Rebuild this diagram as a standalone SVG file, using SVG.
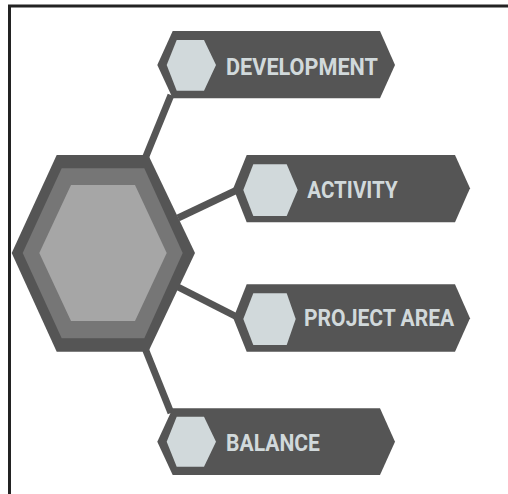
<svg xmlns="http://www.w3.org/2000/svg" width="508" height="494" viewBox="0 0 508 494">
<style>
.frame{fill:none;stroke:#232323;stroke-width:3}
.link{stroke:#555555;stroke-width:7;fill:none}
.box{fill:#555555}
.chip{fill:#d1d9db}
.lbl{font-family:Roboto,"Liberation Sans",sans-serif;font-weight:bold;font-size:23px;fill:#d1d9db}
</style>
<rect width="508" height="494" fill="#ffffff"/>
<path class="frame" d="M9.5,494 V6 H508"/>
<g id="connectors">
<line class="link" x1="145.7" y1="157" x2="171" y2="95"/>
<line class="link" x1="178" y1="218" x2="237" y2="190"/>
<line class="link" x1="178" y1="287" x2="237" y2="317"/>
<line class="link" x1="145.7" y1="350" x2="171" y2="413"/>
</g>
<g id="hub">
<polygon fill="#555555" points="11.7,253 56.7,155 148.3,155 195,253 148.3,351.7 56.7,351.7"/>
<polygon fill="#767676" points="22.7,253 61.7,168.3 144.3,168.3 182.7,253 144.3,338.3 61.7,338.3"/>
<polygon fill="#a6a6a6" points="39.3,253 71,185 135,185 166.7,253 135,321 71,321"/>
</g>
<g id="development">
<polygon class="box" points="157.3,65 172.7,31 380,31 395,65 380,98.3 172.7,98.3"/>
<polygon class="chip" points="166.7,65 176.7,40 204,40 216,65 204,90.7 176.7,90.7"/>
<text class="lbl" x="226" y="75" textLength="152" lengthAdjust="spacingAndGlyphs">DEVELOPMENT</text>
</g>
<g id="activity">
<polygon class="box" points="233.3,188.3 246.7,155 455,155 470,188.3 455,222.3 246.7,222.3"/>
<polygon class="chip" points="243.3,190 253.3,164.3 286.7,164.3 297.7,190 286.7,216 253.3,216"/>
<text class="lbl" x="307.3" y="197.7" textLength="90.4" lengthAdjust="spacingAndGlyphs">ACTIVITY</text>
</g>
<g id="project-area">
<polygon class="box" points="233.3,318.3 246.7,284.3 455,284.3 470,318.3 455,351.7 246.7,351.7"/>
<polygon class="chip" points="243.3,319 253.3,293.3 286.7,293.3 295.7,319 286.7,345 253.3,345"/>
<text class="lbl" x="304" y="326" textLength="150.3" lengthAdjust="spacingAndGlyphs">PROJECT AREA</text>
</g>
<g id="balance">
<polygon class="box" points="157.3,441.7 172.7,408.3 380,408.3 395,441.7 380,475 172.7,475"/>
<polygon class="chip" points="166.7,441.7 176.7,416.7 204,416.7 216,441.7 204,466.7 176.7,466.7"/>
<text class="lbl" x="226" y="450.7" textLength="94" lengthAdjust="spacingAndGlyphs">BALANCE</text>
</g>
</svg>
